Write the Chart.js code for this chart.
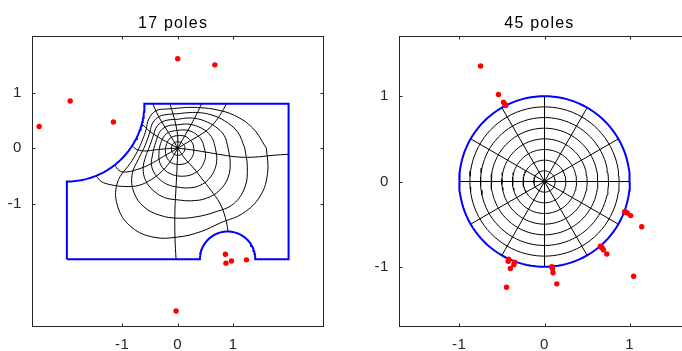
<!DOCTYPE html>
<html><head><meta charset="utf-8">
<script src="https://cdn.jsdelivr.net/npm/chart.js@4.4.1/dist/chart.umd.min.js"></script>
<style>
html,body{margin:0;padding:0;background:#fff;overflow:hidden;width:682px;height:351px;}
#wrapL{position:absolute;left:0;top:0;width:341px;height:351px;}
#wrapR{position:absolute;left:340px;top:0;width:360px;height:351px;}
canvas{display:block;}
</style></head><body>
<div id="wrapL"><canvas id="cL" width="341" height="351"></canvas></div>
<div id="wrapR"><canvas id="cR" width="360" height="351"></canvas></div>
<script>
// ---------- data ----------
const titles = ['17 poles', '45 poles'];
const tickValues = [-1, 0, 1];
const tickLabels = ['-1', '0', '1'];

// left panel: region boundary
const rectX = [-2, 2];
const rectY = [-2, 0.8];
const cornerArc = [-2, 0.8, 1.4];   // centre x, centre y, radius
const bumpArc = [0.9, -2, 0.5];      // centre x, centre y, radius

// left panel: images of circles |z| = k/8 (radius read at angles 0,15,...,345 deg)
const levelAngles = [0,15,30,45,60,75,90,105,120,135,150,165,180,195,210,225,240,255,270,285,300,315,330,345];
const level1 = [0.13,0.13,0.125,0.12,0.12,0.115,0.115,0.115,0.115,0.115,0.115,0.115,0.115,0.115,0.12,0.125,0.125,0.13,0.13,0.13,0.13,0.13,0.13,0.13];
const level2 = [0.29,0.285,0.27,0.26,0.25,0.235,0.225,0.225,0.225,0.225,0.215,0.215,0.22,0.23,0.245,0.265,0.28,0.29,0.295,0.30,0.31,0.31,0.305,0.30];
const level3 = [0.48,0.46,0.43,0.40,0.37,0.34,0.32,0.32,0.33,0.33,0.32,0.32,0.33,0.35,0.39,0.43,0.46,0.48,0.50,0.52,0.54,0.55,0.54,0.52];
const level4 = [0.68,0.65,0.60,0.54,0.49,0.45,0.42,0.43,0.44,0.44,0.42,0.41,0.43,0.47,0.55,0.61,0.65,0.68,0.70,0.74,0.78,0.79,0.77,0.73];
const level5 = [0.91,0.87,0.78,0.69,0.62,0.56,0.52,0.53,0.55,0.54,0.50,0.49,0.52,0.60,0.72,0.82,0.88,0.92,0.93,0.98,1.04,1.07,1.05,0.98];
const level6 = [1.21,1.12,0.98,0.85,0.74,0.66,0.62,0.63,0.66,0.64,0.58,0.57,0.61,0.73,0.95,1.12,1.22,1.25,1.26,1.28,1.33,1.42,1.40,1.30];
const level7 = [1.60,1.40,1.18,0.98,0.84,0.76,0.72,0.73,0.78,0.74,0.66,0.65,0.70,0.85,1.26,1.52,1.65,1.66,1.60,1.56,1.55,1.66,1.72,1.68];

// left panel: images of radii (traced points)
const spoke0   = [[0,0],[0.25,-0.03],[0.5,-0.07],[0.8,-0.12],[1.1,-0.16],[1.4,-0.16],[1.7,-0.13],[2.0,-0.11]];
const spoke30  = [[0,0],[0.22,0.13],[0.44,0.26],[0.62,0.41],[0.76,0.59],[0.88,0.8]];
const spoke60  = [[0,0],[0.12,0.21],[0.24,0.42],[0.34,0.61],[0.43,0.8]];
const spoke90  = [[0,0],[0,0.2],[-0.03,0.4],[-0.08,0.6],[-0.14,0.8]];
const spoke120 = [[0,0],[-0.11,0.19],[-0.23,0.38],[-0.35,0.58],[-0.45,0.8]];
const spoke150 = [[0,0],[-0.18,0.1],[-0.35,0.2],[-0.5,0.3],[-0.65,0.44]];
const spoke180 = [[0,0],[-0.2,-0.01],[-0.4,-0.03],[-0.58,-0.05],[-0.72,-0.03],[-0.826,0.037]];
const spoke210 = [[0,0],[-0.26,-0.15],[-0.5,-0.29],[-0.75,-0.39],[-0.95,-0.43],[-1.06,-0.40],[-1.138,-0.303]];
const spoke240 = [[0,0],[-0.15,-0.26],[-0.3,-0.43],[-0.47,-0.56],[-0.7,-0.67],[-0.95,-0.69],[-1.2,-0.66],[-1.38,-0.6],[-1.47,-0.5]];
const spoke270 = [[0,0],[-0.01,-0.3],[-0.03,-0.7],[-0.05,-1.1],[-0.05,-1.6],[-0.03,-2.0]];
const spoke300 = [[0,0],[0.14,-0.2],[0.27,-0.34],[0.43,-0.54],[0.6,-0.76],[0.76,-0.99],[0.86,-1.25],[0.91,-1.5]];

// left panel poles
const polesLx = [0.0, 0.67, -1.94, -2.50, -1.16, 0.86, 0.87, 0.97, 1.24, -0.03];
const polesLy = [1.61, 1.50, 0.85, 0.39, 0.47, -1.91, -2.07, -2.03, -2.01, -2.93];

// right panel: disk grid
const diskRadius = 1;
const circleRadii = [0.125, 0.25, 0.375, 0.5, 0.625, 0.75, 0.875];
const spokeAngles = [0, 30, 60, 90, 120, 150, 180, 210, 240, 270, 300, 330];

// right panel poles
const polesRx = [-0.75,-0.54,-0.48,-0.465,-0.455,0.94,0.955,0.97,1.01,1.14,0.655,0.665,0.675,0.69,0.73,1.045,0.086,0.09,0.094,0.10,0.144,-0.42,-0.425,-0.40,-0.35,-0.36,-0.445];
const polesRy = [1.355,1.02,0.93,0.905,0.89,-0.355,-0.36,-0.37,-0.40,-0.53,-0.76,-0.77,-0.775,-0.80,-0.85,-1.11,-1.0,-1.01,-1.02,-1.07,-1.20,-0.91,-0.935,-1.02,-0.945,-0.975,-1.24];

// ---------- helpers ----------
const BLUE = '#0000ff', RED = '#ff0000', BLACK = '#000000', AX = '#262626';
const FONT = 'Liberation Sans, Arial, Helvetica, sans-serif';
const rad = d => d * Math.PI / 180;

function arcPoints(cx, cy, r, a0, a1, n) {
  const pts = [];
  for (let i = 0; i <= n; i++) {
    const a = rad(a0 + (a1 - a0) * i / n);
    pts.push({x: cx + r * Math.cos(a), y: cy + r * Math.sin(a)});
  }
  return pts;
}
function polarLoop(radii) {
  const pts = levelAngles.map((a, i) => ({x: radii[i] * Math.cos(rad(a)), y: radii[i] * Math.sin(rad(a))}));
  pts.push({x: pts[0].x, y: pts[0].y});
  return pts;
}
const toPts = arr => arr.map(p => ({x: p[0], y: p[1]}));
function lineDs(data, color, width, tension) {
  return {data, showLine: true, borderColor: color, borderWidth: width, pointRadius: 0,
          pointHoverRadius: 0, tension: tension, fill: false};
}
function poleDs(xs, ys) {
  return {data: xs.map((x, i) => ({x, y: ys[i]})), showLine: false, pointRadius: 2.7,
          pointBackgroundColor: RED, pointBorderWidth: 0, pointBorderColor: RED};
}

// left boundary
const boundaryL = [].concat(
  [{x: rectX[0], y: rectY[0]}],
  arcPoints(cornerArc[0], cornerArc[1], cornerArc[2], -90, 0, 60),
  [{x: rectX[1], y: rectY[1]}, {x: rectX[1], y: rectY[0]}],
  arcPoints(bumpArc[0], bumpArc[1], bumpArc[2], 0, 180, 50),
  [{x: rectX[0], y: rectY[0]}]
);

const leftDatasets = [poleDs(polesLx, polesLy), lineDs(boundaryL, BLUE, 2, 0)];
[level1, level2, level3, level4, level5, level6, level7].forEach(l => leftDatasets.push(lineDs(polarLoop(l), BLACK, 1, 0.4)));
[spoke0, spoke30, spoke60, spoke90, spoke120, spoke150, spoke180, spoke210, spoke240, spoke270, spoke300]
  .forEach(s => leftDatasets.push(lineDs(toPts(s), BLACK, 1, 0.4)));

const rightDatasets = [poleDs(polesRx, polesRy), lineDs(arcPoints(0, 0, diskRadius, 0, 360, 120), BLUE, 2, 0)];
circleRadii.forEach(r => rightDatasets.push(lineDs(arcPoints(0, 0, r, 0, 360, 90), BLACK, 1, 0)));
spokeAngles.forEach(a => rightDatasets.push(lineDs([{x: 0, y: 0}, {x: diskRadius * Math.cos(rad(a)), y: diskRadius * Math.sin(rad(a))}], BLACK, 1, 0)));

// ---------- frame / title plugin ----------
const framePlugin = {
  id: 'frame',
  beforeDraw(chart) { chart.ctx.letterSpacing = '0.6px'; },
  afterDraw(chart, args, opts) {
    const {ctx, chartArea: a, scales: {x, y}} = chart;
    ctx.save();
    ctx.strokeStyle = AX; ctx.lineWidth = 1;
    ctx.strokeRect(a.left, a.top, a.right - a.left, a.bottom - a.top);
    ctx.beginPath();
    const tl = 3;
    tickValues.forEach(v => {
      const px = Math.round(x.getPixelForValue(v)) + 0.5;
      ctx.moveTo(px, a.bottom); ctx.lineTo(px, a.bottom - tl);
      ctx.moveTo(px, a.top); ctx.lineTo(px, a.top + tl);
      const py = Math.round(y.getPixelForValue(v)) + 0.5;
      ctx.moveTo(a.left, py); ctx.lineTo(a.left + tl, py);
      ctx.moveTo(a.right, py); ctx.lineTo(a.right - tl, py);
    });
    ctx.stroke();
    ctx.fillStyle = '#000';
    ctx.font = opts.size + 'px ' + FONT;
    ctx.letterSpacing = opts.spacing;
    ctx.textAlign = 'center';
    ctx.textBaseline = 'alphabetic';
    ctx.fillText(opts.text, opts.cx, opts.baseline);
    ctx.restore();
  }
};

function makeChart(id, datasets, xr, yr, pad, yW, xH, title, titleX) {
  const tickFont = {family: FONT, size: 15};
  new Chart(document.getElementById(id), {
    type: 'scatter',
    data: {datasets},
    plugins: [framePlugin],
    options: {
      responsive: false, animation: false, devicePixelRatio: 1,
      events: [],
      layout: {padding: pad},
      plugins: {legend: {display: false}, tooltip: {enabled: false}, title: {display: false},
                frame: {text: title, cx: titleX, baseline: 27.5, size: 16, spacing: '1.2px'}},
      scales: {
        x: {type: 'linear', position: 'bottom', min: xr[0], max: xr[1],
            grid: {display: false, drawTicks: false}, border: {display: false},
            ticks: {padding: 9, font: tickFont, color: AX, autoSkip: false, maxRotation: 0,
                    callback: (v) => tickLabels[tickValues.indexOf(v)]},
            afterBuildTicks: s => { s.ticks = tickValues.map(v => ({value: v})); },
            afterFit: s => { s.height = xH; }},
        y: {type: 'linear', position: 'left', min: yr[0], max: yr[1],
            grid: {display: false, drawTicks: false}, border: {display: false},
            ticks: {padding: 10.5, font: tickFont, color: AX, autoSkip: false,
                    callback: (v) => tickLabels[tickValues.indexOf(v)]},
            afterBuildTicks: s => { s.ticks = tickValues.map(v => ({value: v})); },
            afterFit: s => { s.width = yW; }}
      }
    }
  });
}

makeChart('cL', leftDatasets, [-2.62, 2.63], [-3.21, 2.01], {left: 0, top: 36.5, right: 17.5, bottom: 0}, 32.5, 24.5, titles[0], 173.1);
makeChart('cR', rightDatasets, [-1.7, 1.7], [-1.7, 1.7], {left: 0, top: 36.5, right: 10.5, bottom: 0}, 59.5, 24.5, titles[1], 199.4);
</script></body></html>
